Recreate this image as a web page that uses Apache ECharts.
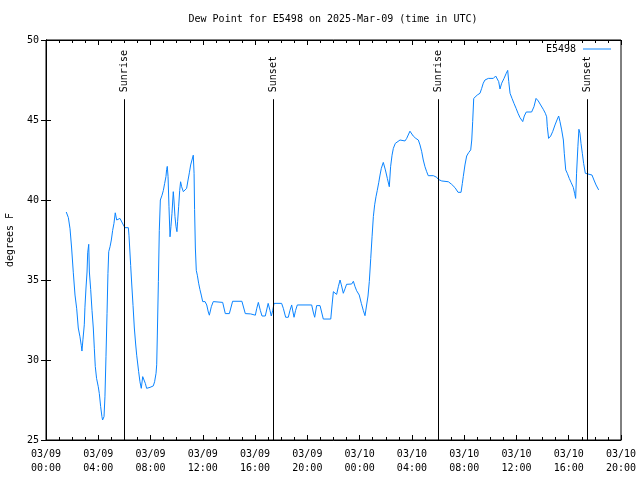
<!DOCTYPE html>
<html><head><meta charset="utf-8">
<script src="https://cdn.jsdelivr.net/npm/echarts@6/dist/echarts.min.js"></script>
<style>html,body{margin:0;padding:0;background:#fff}#c{width:640px;height:480px}</style>
</head><body><div id="c"></div>
<script>
// hours since 2025-03-09 00:00 UTC
const hours = [1.55,1.71,1.84,1.96,2.09,2.22,2.35,2.47,2.60,2.70,2.75,2.83,2.93,2.98,3.06,3.14,3.19,3.27,3.32,3.42,3.52,3.62,3.70,3.77,3.87,4.00,4.08,4.18,4.28,4.33,4.44,4.51,4.59,4.67,4.74,4.80,4.90,5.00,5.10,5.20,5.30,5.41,5.66,5.79,5.92,6.04,6.30,6.35,6.48,6.56,6.66,6.76,6.86,6.94,7.02,7.09,7.19,7.29,7.40,7.50,7.60,7.70,7.96,8.21,8.31,8.42,8.47,8.52,8.60,8.67,8.75,8.88,8.98,9.08,9.18,9.23,9.28,9.34,9.41,9.49,9.56,9.64,9.74,9.79,9.87,9.95,10.02,10.07,10.15,10.23,10.30,10.38,10.51,10.65,10.76,10.87,10.97,11.07,11.17,11.27,11.33,11.37,11.43,11.50,11.58,11.68,11.78,11.88,11.99,12.17,12.30,12.42,12.50,12.65,12.80,13.52,13.72,14.03,14.28,14.99,15.25,15.66,16.02,16.12,16.25,16.40,16.53,16.78,17.00,17.14,17.24,17.35,17.45,18.03,18.16,18.34,18.54,18.67,18.80,18.90,18.98,19.10,19.23,20.33,20.45,20.56,20.71,20.97,21.22,21.79,21.89,21.99,22.11,22.24,22.37,22.50,22.60,22.75,22.88,23.00,23.39,23.52,23.65,23.77,23.97,24.13,24.28,24.41,24.51,24.64,24.74,24.85,24.95,25.05,25.15,25.25,25.35,25.46,25.56,25.66,25.81,25.97,26.12,26.27,26.37,26.48,26.58,26.73,26.88,27.09,27.47,27.60,27.85,28.10,28.30,28.49,28.62,28.75,28.87,29.00,29.13,29.25,29.64,29.90,30.02,30.28,30.79,31.04,31.30,31.53,31.76,31.86,31.93,32.06,32.19,32.34,32.50,32.58,32.65,32.73,32.85,33.00,33.21,33.34,33.46,33.59,33.85,34.23,34.41,34.54,34.64,34.74,34.87,35.05,35.22,35.33,35.41,35.51,35.66,35.81,35.97,36.12,36.27,36.48,36.60,36.75,37.16,37.34,37.50,37.67,37.85,38.05,38.21,38.31,38.36,38.46,38.62,38.77,38.95,39.10,39.23,39.33,39.46,39.59,39.66,39.77,39.89,40.04,40.19,40.35,40.45,40.53,40.60,40.70,40.78,40.86,40.94,41.04,41.14,41.27,41.42,41.78,41.93,42.09,42.29];
const dewPoint = [39.25,38.9,38.2,37.0,35.45,34.06,33.2,32.0,31.45,30.9,30.56,31.3,32.2,33.3,34.5,35.5,36.7,37.23,35.5,34.4,33.1,32.0,30.7,29.6,28.85,28.33,27.9,27.1,26.46,26.25,26.46,27.7,30.2,32.9,35.4,36.77,37.08,37.5,38.1,38.54,39.2,38.75,38.85,38.9,38.44,38.27,38.27,37.8,35.9,34.75,33.4,32.0,31.0,30.3,29.75,29.27,28.64,28.23,28.96,28.85,28.54,28.23,28.29,28.38,28.64,29.17,29.7,31.56,34.9,38.1,40.0,40.3,40.6,41.04,41.46,41.9,42.1,41.46,39.58,37.7,38.33,39.17,40.52,40.0,38.96,38.33,38.02,38.64,39.58,40.6,41.14,40.83,40.52,40.52,40.73,41.25,41.7,42.19,42.5,42.8,41.67,39.4,37.0,35.6,35.3,34.8,34.4,34.06,33.65,33.65,33.44,33.0,32.8,33.33,33.65,33.6,32.9,32.9,33.67,33.67,32.9,32.88,32.8,33.2,33.6,33.1,32.75,32.75,33.54,33.1,32.75,33.1,33.54,33.54,33.23,32.67,32.67,33.1,33.44,33.0,32.67,33.1,33.44,33.44,33.0,32.67,33.4,33.4,32.56,32.56,33.44,34.27,34.17,34.1,34.58,35.0,34.7,34.17,34.45,34.73,34.75,34.92,34.58,34.33,34.06,33.54,33.1,32.77,32.67,34.0,34.9,36.35,37.7,38.96,39.7,40.2,40.6,41.08,41.56,41.98,42.35,41.88,41.35,40.83,42.08,42.8,43.23,43.54,43.65,43.75,43.69,43.85,44.3,44.0,43.85,43.75,43.44,43.02,42.5,42.08,41.77,41.52,41.52,41.42,41.29,41.19,41.14,40.98,40.77,40.48,40.48,41.04,41.46,42.19,42.75,42.96,43.13,43.75,44.9,46.35,46.46,46.56,46.67,46.98,47.3,47.5,47.6,47.6,47.75,47.85,47.4,46.94,47.3,47.6,47.92,48.1,47.4,46.67,46.35,46.04,45.73,45.42,45.15,44.9,45.25,45.5,45.5,45.83,46.35,46.19,45.94,45.67,45.42,45.2,44.58,43.85,44.0,44.27,44.69,45.0,45.25,44.9,44.38,43.75,42.92,41.88,41.67,41.35,41.08,40.79,40.42,40.1,41.67,43.33,44.42,44.17,43.54,42.92,42.29,41.67,41.56,41.56,41.25,40.94,40.63];
const eventLabels = ['Sunrise','Sunset','Sunrise','Sunset'];
const eventHours = [5.99, 17.39, 30.02, 41.42];
const seriesName = 'E5498';
const titleText = 'Dew Point for E5498 on 2025-Mar-09 (time in UTC)';

const FONT = 'DejaVu Sans Mono';
const xMin = 0, xMax = 44, yMin = 25, yMax = 50, eventTop = 46.3;
const fmtX = v => {
  const d = 9 + Math.floor(v / 24), h = v % 24;
  return '03/' + String(d).padStart(2, '0') + '\n' + String(h).padStart(2, '0') + ':00';
};
const chart = echarts.init(document.getElementById('c'));
const baseX = {
  type: 'value', min: xMin, max: xMax, interval: 4,
  splitLine: { show: false },
  axisLine: { show: true, lineStyle: { color: '#000', width: 1 } },
  axisTick: { show: true, inside: true, length: 5, lineStyle: { color: '#000' } },
  minorTick: { show: true, splitNumber: 4, length: 3, lineStyle: { color: '#000' } }
};
const baseY = {
  type: 'value', min: yMin, max: yMax, interval: 5,
  splitLine: { show: false },
  axisLine: { show: true, lineStyle: { color: '#000', width: 1 } },
  axisTick: { show: true, inside: true, length: 5, lineStyle: { color: '#000' } }
};
const LINE = '#0a84ff';
chart.setOption({
  animation: false,
  backgroundColor: '#fff',
  title: { text: titleText, left: 333, textAlign: 'center', top: 14, padding: 0,
    textStyle: { fontFamily: FONT, fontSize: 10, fontWeight: 'normal', color: '#000' } },
  legend: { data: [{ name: seriesName, icon: 'rect' }], right: 29, top: 44, align: 'right', padding: 0,
    itemWidth: 28, itemHeight: 1, itemGap: 6,
    itemStyle: { color: LINE },
    textStyle: { fontFamily: FONT, fontSize: 10, color: '#000', padding: [0, 2, 0, 0] } },
  grid: { left: 46, right: 19, top: 40, bottom: 40, show: true, borderColor: '#000', borderWidth: 1,
    containLabel: false, outerBoundsMode: 'none' },
  xAxis: [
    Object.assign({}, baseX, { position: 'bottom',
      axisLabel: { formatter: fmtX, fontFamily: FONT, fontSize: 10, color: '#000', lineHeight: 14, margin: 7 } }),
    Object.assign({}, baseX, { position: 'top', axisLabel: { show: false } })
  ],
  yAxis: [
    Object.assign({}, baseY, { position: 'left', name: 'degrees F', nameLocation: 'middle', nameGap: 31,
      nameTextStyle: { fontFamily: FONT, fontSize: 10, color: '#000' },
      axisLabel: { fontFamily: FONT, fontSize: 10, color: '#000', margin: 7 } }),
    Object.assign({}, baseY, { position: 'right', axisLabel: { show: false } })
  ],
  series: [{
    name: seriesName, type: 'line', showSymbol: false, symbol: 'none',
    data: hours.map((h, i) => [h, dewPoint[i]]),
    lineStyle: { color: LINE, width: 1 }, itemStyle: { color: LINE },
    markLine: { silent: true, symbol: 'none', label: { show: false },
      lineStyle: { color: '#000', width: 1, type: 'solid' },
      data: eventHours.map(h => [{ coord: [h, yMin] }, { coord: [h, eventTop] }]) }
  }]
});
const gfx = eventHours.map((h, i) => {
  const p = chart.convertToPixel({ xAxisIndex: 0, yAxisIndex: 0 }, [h, eventTop]);
  return { type: 'text', x: Math.round(p[0]) + 0.5, y: p[1] - 7, rotation: Math.PI / 2,
    style: { text: eventLabels[i], fontFamily: FONT, fontSize: 10, fill: '#000',
      textAlign: 'left', textVerticalAlign: 'middle' } };
});
chart.setOption({ graphic: gfx });
</script></body></html>
